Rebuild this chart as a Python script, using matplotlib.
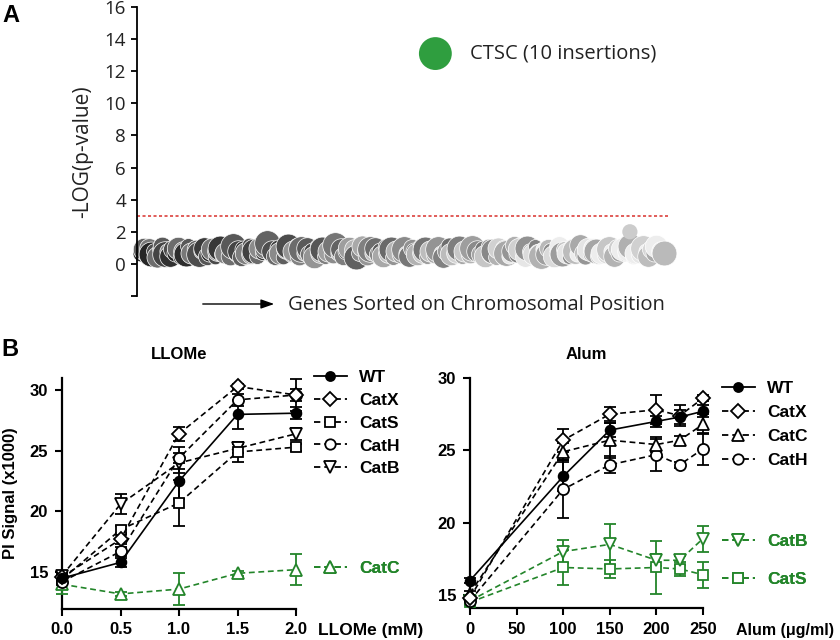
import matplotlib
matplotlib.use("Agg")
import matplotlib.pyplot as plt
from matplotlib.lines import Line2D
from matplotlib.patches import FancyArrowPatch

# Panel A: gene insertion screen
gene_logp = [
    0.7, 0.9, 0.5, 1.0, 0.6, 0.8, 0.4, 0.9, 1.1, 0.6,
    0.8, 0.5, 0.9, 0.7, 1.0, 0.4, 0.8, 0.6, 1.1, 0.7,
    0.5, 0.9, 0.6, 0.8, 1.0, 0.5, 0.7, 0.9, 0.4, 0.8,
    1.0, 0.6, 0.7, 0.9, 0.5, 1.1, 0.6, 0.8, 0.4, 0.9,
    0.7, 1.2, 0.6, 0.8, 0.5, 1.0, 0.7, 0.9, 1.3, 0.6,
    0.8, 0.5, 1.0, 0.7, 0.4, 0.9, 1.1, 0.6, 0.8, 1.2,
    0.5, 0.9, 0.7, 1.0, 0.6, 0.8, 0.4, 1.1, 0.7, 0.9,
    0.5, 0.8, 1.0, 0.6, 1.2, 0.7, 0.9, 0.5, 0.8, 1.0,
    0.6, 0.9, 0.4, 0.7, 1.1, 0.8, 0.5, 0.9, 0.7, 1.0,
    0.6, 0.8, 0.5, 1.1, 0.7, 0.9, 0.4, 0.8, 1.0, 0.6,
    0.9, 0.7, 0.5, 1.0, 0.8, 0.6, 1.1, 0.7, 0.9, 0.5,
    0.8, 1.0, 0.6, 0.9, 0.7, 0.4, 0.8, 1.1, 0.6, 0.9,
    0.7, 1.0, 0.5, 0.8, 0.9, 0.6, 1.0, 0.7, 0.8, 0.6,
    0.9, 0.5, 1.1, 0.7, 0.8, 0.4, 1.0, 0.6, 0.9, 0.7,
    0.5, 0.8, 1.2, 0.6, 0.9, 0.7, 0.4, 1.0, 0.8, 0.6,
    1.1, 0.7, 0.5, 0.9, 0.6, 1.0, 0.8, 0.5, 0.7, 1.1,
    0.6, 0.9, 0.7, 0.4, 1.0, 0.8, 0.6, 1.2, 0.7, 0.5,
    0.9, 0.6, 1.0, 0.8, 0.5, 0.7, 1.1, 0.6, 0.9, 0.8,
    0.5, 1.0, 0.7, 0.9, 0.6, 0.8, 1.1, 0.5, 0.7, 0.9,
    0.6, 1.0, 0.8, 0.5, 0.9, 0.7, 1.1, 0.6, 0.8, 0.7,
]
ctsc_pos, ctsc_logp = 112, 13.1
light_pos, light_logp = 186, 2.0
threshold = 3.0

# Panel B: LLOMe dose response
llome_dose = [0.0, 0.5, 1.0, 1.5, 2.0]
llome = {
    "WT":   [14.5, 15.8, 22.5, 28.0, 28.1],
    "CatX": [14.6, 17.7, 26.4, 30.3, 29.6],
    "CatS": [14.4, 18.5, 20.7, 24.9, 25.3],
    "CatH": [14.2, 16.7, 24.4, 29.2, 29.6],
    "CatB": [14.7, 20.6, 24.0, 25.2, 26.4],
    "CatC": [14.0, 13.2, 13.6, 14.9, 15.2],
}
llome_err = {
    "WT":   [0.3, 0.35, 1.5, 1.2, 0.5],
    "CatX": [0.3, 0.4, 0.6, 0.2, 1.3],
    "CatS": [0.3, 0.3, 1.9, 0.8, 0.3],
    "CatH": [0.3, 0.4, 0.9, 0.5, 0.5],
    "CatB": [0.2, 0.8, 0.8, 0.4, 0.5],
    "CatC": [0.8, 0.2, 1.3, 0.2, 1.3],
}

# Panel B: Alum dose response
alum_dose = [0, 100, 150, 200, 225, 250]
alum = {
    "WT":   [16.0, 23.2, 26.4, 27.0, 27.3, 27.7],
    "CatX": [14.8, 25.7, 27.5, 27.8, 27.4, 28.6],
    "CatC": [15.1, 24.9, 25.7, 25.4, 25.7, 26.8],
    "CatH": [14.6, 22.3, 24.0, 24.7, 24.0, 25.1],
    "CatB": [14.6, 18.0, 18.5, 17.4, 17.4, 18.9],
    "CatS": [14.5, 16.9, 16.8, 16.9, 16.8, 16.4],
}
alum_err = {
    "WT":   [0.2, 1.0, 0.5, 0.4, 0.5, 0.4],
    "CatX": [0.2, 0.8, 0.5, 1.0, 0.7, 0.2],
    "CatC": [0.2, 0.6, 1.2, 0.5, 0.3, 0.7],
    "CatH": [0.2, 2.0, 0.6, 1.1, 0.2, 1.1],
    "CatB": [0.2, 0.8, 1.4, 0.4, 0.3, 0.9],
    "CatS": [0.2, 1.2, 0.6, 1.8, 0.5, 0.9],
}

GREEN = "#23852a"
markers = {"WT": "o", "CatX": "D", "CatS": "s", "CatH": "o", "CatB": "v", "CatC": "^"}
msizes = {"WT": 7, "CatX": 7.5, "CatS": 7.5, "CatH": 8, "CatB": 8.5, "CatC": 8.5}
DASH = (0, (3.5, 2.2))

fig = plt.figure(figsize=(8.4, 6.4), dpi=100)
W, H = 840.0, 640.0


def px_axes(x0, y0, x1, y1):
    return fig.add_axes([x0 / W, 1 - y1 / H, (x1 - x0) / W, (y1 - y0) / H])


# ---------------- Panel A ----------------
sans = "Open Sans"
axA = px_axes(137, 7, 668, 296)
n = len(gene_logp)
size_cycle = [150, 260, 110, 200, 320, 130, 230, 100, 180, 340, 120, 240, 170]
shade_cycle = [-0.18, 0.12, -0.05, 0.20, -0.13, 0.03, 0.15, -0.20, 0.07, -0.02, 0.22, -0.10, 0.0]
for i, v in enumerate(gene_logp):
    frac = i / (n - 1)
    g = 0.26 + 0.6 * frac + shade_cycle[i % len(shade_cycle)]
    g = min(max(g, 0.15), 0.93)
    axA.scatter(i, v, s=size_cycle[i % len(size_cycle)], color=str(g),
                edgecolors="white", linewidths=0.5, zorder=2, clip_on=False)
axA.scatter(light_pos, light_logp, s=120, color="0.8", edgecolors="none", zorder=2)
axA.scatter(ctsc_pos, ctsc_logp, s=560, color="#2f9e3f", edgecolors="none", zorder=3)
axA.text(ctsc_pos + 13, ctsc_logp, "CTSC (10 insertions)", fontsize=14.5,
         family=sans, va="center", ha="left", color="#222222")
axA.axhline(threshold, color="#d9302c", linestyle=(0, (2, 1.6)), linewidth=1.1, zorder=1)
axA.set_xlim(-1.5, n + 0.5)
axA.set_ylim(-2, 16)
axA.set_yticks(range(-2, 17, 2))
axA.set_yticklabels([""] + [str(t) for t in range(0, 17, 2)], family=sans, fontsize=13.5,
                    color="#222222")
axA.set_xticks([])
for s in ["top", "right", "bottom"]:
    axA.spines[s].set_visible(False)
axA.spines["left"].set_linewidth(1.3)
axA.tick_params(axis="y", length=4, width=1.3, pad=4)
axA.set_ylabel("-LOG(p-value)", family=sans, fontsize=15, color="#222222", labelpad=8)
fig.text(288 / W, 1 - 305 / H, "Genes Sorted on Chromosomal Position", family=sans,
         fontsize=14.6, va="center", ha="left", color="#222222")
fig.add_artist(FancyArrowPatch(
    (200 / W, 1 - 304 / H), (277 / W, 1 - 304 / H), transform=fig.transFigure,
    arrowstyle="-|>,head_length=8,head_width=2.8", color="black", linewidth=1.0))
fig.text(2 / W, 1 - 16 / H, "A", fontsize=17, fontweight="bold", family="Liberation Sans",
         va="center", ha="left")

# ---------------- Panel B ----------------
bfont = "Liberation Sans"
plt.rcParams["font.family"] = bfont
plt.rcParams["font.weight"] = "bold"


def draw_series(ax, xs, data, err, name, green):
    col = GREEN if green else "black"
    filled = name == "WT"
    ax.errorbar(xs, data[name], yerr=err[name], color=col,
                linestyle="-" if filled else DASH, linewidth=1.2,
                marker=markers[name], ms=msizes[name], mew=1.3,
                mfc=col if filled else "white", mec=col,
                ecolor=col, elinewidth=1.3, capsize=4.5, capthick=1.3,
                clip_on=False, zorder=3)


def style_axes(ax):
    for s in ["top", "right"]:
        ax.spines[s].set_visible(False)
    for s in ["left", "bottom"]:
        ax.spines[s].set_linewidth(1.6)
    ax.tick_params(length=5, width=1.5, labelsize=12, pad=5)
    for lab in ax.get_xticklabels() + ax.get_yticklabels():
        lab.set_fontweight("bold")


def proxy(name, green):
    col = GREEN if green else "black"
    filled = name == "WT"
    return Line2D([], [], color=col, linestyle="-" if filled else DASH, linewidth=1.3,
                  marker=markers[name], ms=msizes[name] - 0.5, mew=1.3,
                  mfc=col if filled else "white", mec=col)


def add_legend(ax, names, green, x, y, spacing):
    handles = [proxy(nm, green) for nm in names]
    leg = ax.legend(handles, names, loc="upper left", bbox_to_anchor=(x / W, 1 - y / H),
                    bbox_transform=fig.transFigure, frameon=False, handlelength=1.9,
                    handletextpad=0.7, labelspacing=spacing, borderpad=0, borderaxespad=0,
                    prop={"family": bfont, "weight": "bold", "size": 12.5})
    if green:
        for t in leg.get_texts():
            t.set_color(GREEN)
    ax.add_artist(leg)


# LLOMe
axL = px_axes(62, 378, 296, 608.5)
for nm in ["CatC", "CatB", "CatS", "CatH", "CatX", "WT"]:
    draw_series(axL, llome_dose, llome, llome_err, nm, nm == "CatC")
axL.set_xlim(0, 2)
axL.set_ylim(12, 31)
axL.set_xticks([0, 0.5, 1.0, 1.5, 2.0])
axL.set_xticklabels(["0.0", "0.5", "1.0", "1.5", "2.0"])
axL.set_yticks([15, 20, 25, 30])
style_axes(axL)
axL.set_ylabel("PI Signal (x1000)", fontsize=12, fontweight="bold", labelpad=8)
axL.set_title("LLOMe", fontsize=12, fontweight="bold", pad=14)
fig.text(318 / W, 1 - 630 / H, "LLOMe (mM)", fontsize=12.5, fontweight="bold",
         va="center", ha="left")
add_legend(axL, ["WT", "CatX", "CatS", "CatH", "CatB"], False, 314, 370, 0.44)
add_legend(axL, ["CatC"], True, 314, 561, 0.35)

# Alum
axR = px_axes(470, 378, 703, 608)
for nm in ["CatS", "CatB", "CatH", "CatC", "CatX", "WT"]:
    draw_series(axR, alum_dose, alum, alum_err, nm, nm in ("CatB", "CatS"))
axR.set_xlim(0, 250)
axR.set_ylim(14.1, 30)
axR.set_xticks(range(0, 251, 50))
axR.set_yticks([15, 20, 25, 30])
style_axes(axR)
axR.set_title("Alum", fontsize=12, fontweight="bold", pad=14)
fig.text(736 / W, 1 - 630 / H, "Alum (\u03bcg/ml)", fontsize=11.5, fontweight="bold",
         va="center", ha="left")
add_legend(axR, ["WT", "CatX", "CatC", "CatH"], False, 722, 381, 0.5)
add_legend(axR, ["CatB", "CatS"], True, 722, 534, 1.3)

fig.text(1 / W, 1 - 349 / H, "B", fontsize=17, fontweight="bold", family=bfont,
         va="center", ha="left")

fig.savefig("out.png", dpi=100)
